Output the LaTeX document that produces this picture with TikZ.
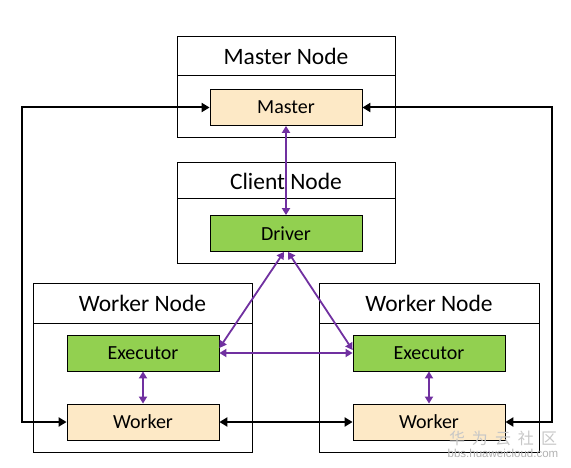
\documentclass[tikz,border=0pt]{standalone}
\usepackage{fontspec}
\setmainfont{Carlito}
\newfontfamily\cjk{Noto Sans CJK SC}
\newfontfamily\urlfont{Liberation Sans}
\usetikzlibrary{arrows.meta,positioning}
\definecolor{mastfill}{HTML}{FDE9C6}
\definecolor{drvgreen}{HTML}{92D050}
\definecolor{linkpurple}{HTML}{7030A0}

\begin{document}
\begin{tikzpicture}[x=1pt, y=-1pt,
        host/.style={draw, line width=1pt, minimum width=218pt, inner sep=0pt},
        hosttitle/.style={draw, line width=1pt, minimum width=218pt, inner sep=0pt, anchor=north, font=\fontsize{23.5}{23.5}\selectfont},
        proc/.style={draw, line width=0.8pt, minimum width=152pt, minimum height=36pt, inner sep=0pt, font=\fontsize{20}{20}\selectfont},
        daemon/.style={proc, fill=mastfill},
        task/.style={proc, fill=drvgreen},
        ctrl/.style={{Triangle[length=8pt,width=9pt]}-{Triangle[length=8pt,width=9pt]}, line width=2pt},
        data/.style={{Triangle[length=7pt,width=8pt]}-{Triangle[length=7pt,width=8pt]}, line width=1.8pt, linkpurple}]
    \useasboundingbox (0,0) rectangle (571,468);
    % master node
    \node[host, minimum height=101pt] (mhost) at (286,87.5) {};
    \node[hosttitle, minimum height=39pt] (mtitle) at (mhost.north) {Master Node};
    \node[daemon] (mst) at (286,107.5) {Master};
    % client node
    \node[host, minimum height=101pt] (chost) at (286,213.5) {};
    \node[hosttitle, minimum height=36pt] (ctitle) at (chost.north) {Client Node};
    \node[task] (drv) at (286,233.5) {Driver};
    % worker nodes
    \node[host, minimum width=219pt, minimum height=169pt] (whostL) at (142.5,367.5) {};
    \node[hosttitle, minimum width=219pt, minimum height=40pt] (wtitleL) at (whostL.north) {Worker Node};
    \node[task] (exL) at (143,353) {Executor};
    \node[daemon] (wkL) at (143,422) {Worker};
    \node[host, minimum width=220pt, minimum height=169pt] (whostR) at (429,367.5) {};
    \node[hosttitle, minimum width=220pt, minimum height=40pt] (wtitleR) at (whostR.north) {Worker Node};
    \node[task] (exR) at (429,353) {Executor};
    \node[daemon] (wkR) at (429,422) {Worker};
    % links
    \draw[ctrl] (wkL.west) -- ++(-45,0) |- (mst.west);
    \draw[ctrl] (wkR.east) -- ++(47,0) |- (mst.east);
    \draw[ctrl] (wkL) -- (wkR);
    \draw[data] (mst) -- (drv);
    \draw[data] ([xshift=-2pt]drv.south) -- ([yshift=5pt]exL.east);
    \draw[data] ([xshift=2pt]drv.south) -- ([yshift=3pt]exR.west);
    \draw[data] (exL) -- (exR);
    \draw[data] (exL) -- (wkL);
    \draw[data] (exR) -- (wkR);
    % watermark
    \node[text=black!22, font=\cjk\fontsize{16}{16}\selectfont] (wmark) at (503,438) {华\hspace{7pt}为\hspace{7pt}云\hspace{7pt}社\hspace{7pt}区};
    \node[text=black!30, font=\urlfont\fontsize{11.5}{12}\selectfont, below=-3pt of wmark] (wurl) {bbs.huaweicloud.com};
\end{tikzpicture}
\end{document}
